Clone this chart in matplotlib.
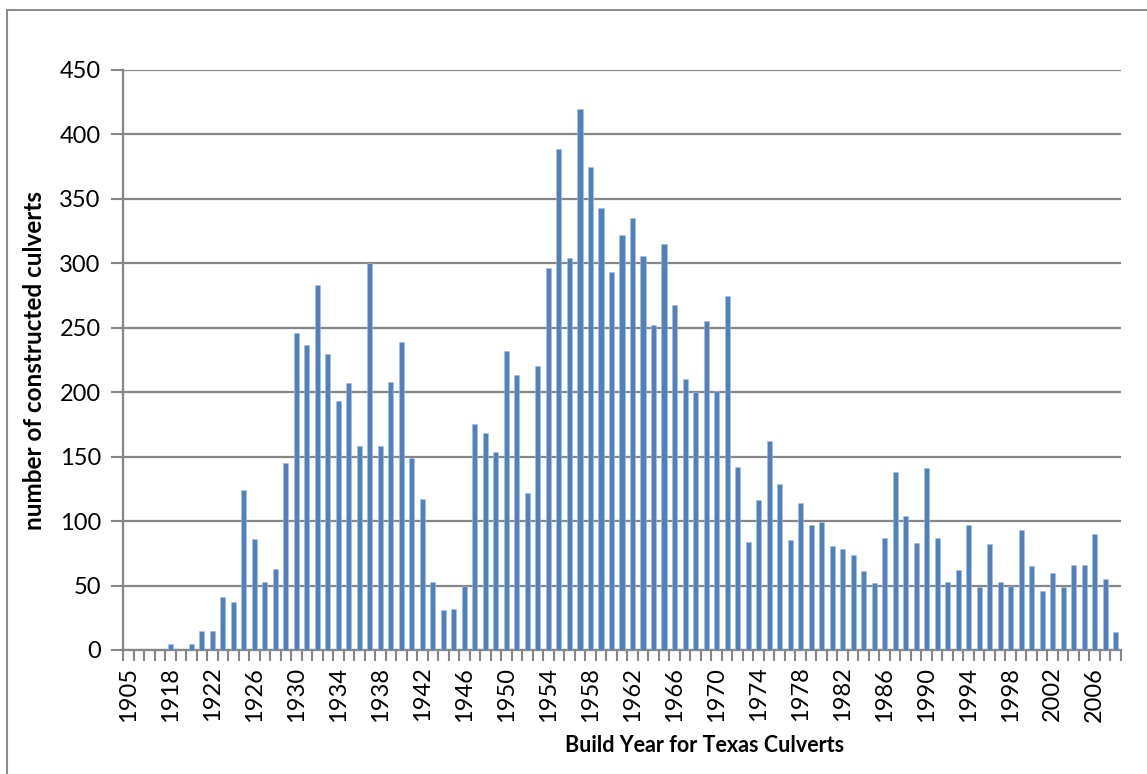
import matplotlib
matplotlib.use("Agg")
import matplotlib.pyplot as plt
from matplotlib.patches import Rectangle
import numpy as np

plt.rcParams['font.family'] = ['Lato', 'DejaVu Sans']

years = ["1905", "1910", "1915", "1917"] + [str(y) for y in range(1918, 2009)]
counts = [0, 0, 0, 0,
          5, 0, 5, 15, 15, 41, 37, 124, 86, 53, 63, 145,
          246, 237, 283, 230, 193, 207, 158, 300, 158, 208, 239, 149,
          117, 53, 31, 32, 50, 175, 168, 154, 232, 213, 122, 220,
          296, 389, 304, 420, 375, 343, 293, 322, 335, 306, 252, 315,
          268, 210, 200, 255, 201, 275,
          142, 84, 116, 162, 129, 85, 114, 97, 99, 81, 78, 74, 61, 52,
          87, 138, 104, 83, 141, 87, 53, 62, 97, 49, 82, 53, 50, 93,
          65, 46, 60, 49, 66, 66, 90, 55, 14]
y_ticks = [0, 50, 100, 150, 200, 250, 300, 350, 400, 450]

W, H = 1147, 774
fig = plt.figure(figsize=(W / 100, H / 100), dpi=100)
fig.patch.set_facecolor('white')

# outer chart border
fig.add_artist(Rectangle((7.5 / W, -0.05), 1.2, (H - 10) / H + 0.05,
                         transform=fig.transFigure, fill=False,
                         edgecolor='#8c8c8c', linewidth=1.5))

left, right, top, bottom = 123, 1121, 70, 650
ax = fig.add_axes([left / W, 1 - bottom / H, (right - left) / W, (bottom - top) / H])

x = np.arange(len(years))
ax.bar(x, counts, width=0.48, color='#4F81BD', edgecolor='#A7C0DE', linewidth=0.4, zorder=3)

ax.set_xlim(-0.5, len(years) - 0.5)
ax.set_ylim(0, 450)
ax.set_yticks(y_ticks)
ax.set_yticklabels([str(v) for v in y_ticks], fontsize=17)
ax.yaxis.grid(True, color='#868686', linewidth=1.6, zorder=0)
ax.set_axisbelow(True)

ax.set_xticks(x[::4])
ax.set_xticklabels(years[::4], rotation=90, fontsize=17)
ax.set_xticks(np.arange(-0.5, len(years)), minor=True)
ax.tick_params(axis='x', which='major', length=0, pad=12)
ax.tick_params(axis='x', which='minor', length=8, width=1.5, color='#868686')
ax.tick_params(axis='y', which='major', length=9, width=1.5, color='#868686', pad=7)

for s in ['top', 'right']:
    ax.spines[s].set_visible(False)
for s in ['left', 'bottom']:
    ax.spines[s].set_color('#868686')
    ax.spines[s].set_linewidth(1.6)

fig.text(705 / W, 1 - 745 / H, 'Build Year for Texas Culverts', ha='center', va='center',
         fontsize=15.5, fontweight='bold')
fig.text(35 / W, 1 - 360 / H, 'number of constructed culverts', ha='center', va='center',
         rotation=90, fontsize=17.5, fontweight='bold')

fig.savefig('out.png', dpi=100, facecolor='white')
